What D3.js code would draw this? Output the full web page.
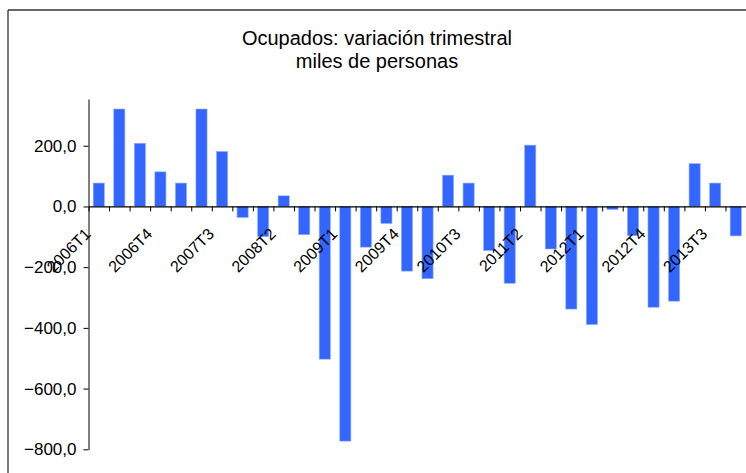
<!DOCTYPE html>
<html>
<head>
<meta charset="utf-8">
<script src="https://cdn.jsdelivr.net/npm/d3@7"></script>
<style>
  html, body { margin: 0; padding: 0; background: #fff; }
  svg { display: block; font-family: "Liberation Sans", Arial, sans-serif; }
</style>
</head>
<body>
<svg id="chart" width="746" height="473"></svg>
<script>
const titleLines = ["Ocupados: variación trimestral", "miles de personas"];
const categories = [
  "2006T1","2006T2","2006T3","2006T4",
  "2007T1","2007T2","2007T3","2007T4",
  "2008T1","2008T2","2008T3","2008T4",
  "2009T1","2009T2","2009T3","2009T4",
  "2010T1","2010T2","2010T3","2010T4",
  "2011T1","2011T2","2011T3","2011T4",
  "2012T1","2012T2","2012T3","2012T4",
  "2013T1","2013T2","2013T3","2013T4"
];
const values = [
  77, 321, 208, 114,
  77, 321, 181, -36,
  -99, 35, -93, -503,
  -773, -134, -56, -213,
  -238, 103, 77, -145,
  -253, 202, -140, -338,
  -389, -10, -96, -332,
  -312, 141, 77, -97
];
const yTicks = [-800, -600, -400, -200, 0, 200];
const yDomain = [-800, 354];
const labelEvery = 3;

const svg = d3.select("#chart");

// frame (cut at right and bottom as in the original)
svg.append("line").attr("x1", 8).attr("x2", 746).attr("y1", 10).attr("y2", 10)
  .attr("stroke", "#333").attr("stroke-width", 1.6);
svg.append("line").attr("x1", 8).attr("x2", 8).attr("y1", 10).attr("y2", 473)
  .attr("stroke", "#222").attr("stroke-width", 1.2);

// title
svg.append("g").selectAll("text").data(titleLines).join("text")
  .attr("x", 377).attr("y", (d, i) => 45 + i * 23)
  .attr("text-anchor", "middle")
  .attr("font-size", 20).attr("fill", "#000")
  .text(d => d);

const plotLeft = 88.5, plotRight = 746, plotTop = 99, plotBottom = 449.3;

const y = d3.scaleLinear().domain(yDomain).range([plotBottom, plotTop]);
const x = d3.scaleBand().domain(categories).range([plotLeft, plotRight])
  .paddingInner(0.46).paddingOuter(0.23);
const xEdge = d3.scaleLinear().domain([0, categories.length]).range([plotLeft, plotRight]);

// bars
svg.append("g").selectAll("rect").data(categories).join("rect")
  .attr("x", d => x(d))
  .attr("width", x.bandwidth())
  .attr("y", (d, i) => y(Math.max(0, values[i])))
  .attr("height", (d, i) => Math.abs(y(values[i]) - y(0)))
  .attr("fill", "#3366ff")
  .attr("stroke", "#8fa8ff")
  .attr("stroke-width", 0.6);

// y axis
const locale = d3.formatLocale({decimal: ",", thousands: ".", grouping: [3], currency: ["", "€"]});
const fmt = locale.format(".1f");
const yAxis = svg.append("g")
  .attr("transform", `translate(${plotLeft},0)`)
  .call(d3.axisLeft(y).tickValues(yTicks).tickFormat(fmt).tickSizeInner(5).tickSizeOuter(0).tickPadding(7));
yAxis.select(".domain").attr("stroke", "#000").attr("stroke-width", 1);
yAxis.selectAll(".tick line").attr("stroke", "#000");
yAxis.selectAll(".tick text").attr("font-size", 17).attr("fill", "#000")
  .attr("font-family", "Liberation Sans, Arial, sans-serif");

// x axis at zero, ticks at category boundaries
const xAxis = svg.append("g")
  .attr("transform", `translate(0,${y(0)})`)
  .call(d3.axisBottom(xEdge).tickValues(d3.range(0, categories.length + 1))
    .tickFormat("").tickSizeInner(5).tickSizeOuter(0));
xAxis.select(".domain").attr("stroke", "#000").attr("stroke-width", 1.2);
xAxis.selectAll(".tick line").attr("stroke", "#000");

// category labels
const lab = categories.filter((d, i) => i % labelEvery === 0);
svg.append("g").selectAll("text").data(lab).join("text")
  .attr("transform", d => `translate(${x(d) + x.bandwidth() / 2 - 7},${y(0) + 28.5}) rotate(-45)`)
  .attr("text-anchor", "end")
  .attr("font-size", 16).attr("fill", "#000")
  .text(d => d);
</script>
</body>
</html>
